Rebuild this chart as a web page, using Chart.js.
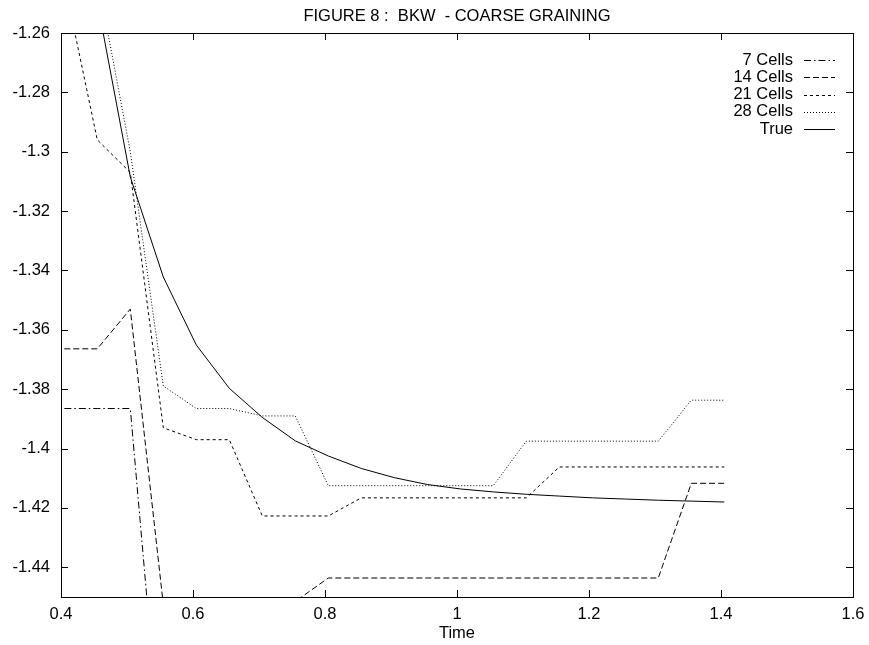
<!DOCTYPE html>
<html>
<head>
<meta charset="utf-8">
<title>FIGURE 8 : BKW - COARSE GRAINING</title>
<script src="https://cdn.jsdelivr.net/npm/chart.js@4/dist/chart.umd.min.js"></script>
<style>
    html, body { margin: 0; padding: 0; background: #fff; }
    #wrap { width: 869px; height: 645px; }
</style>
</head>
<body>
<div id="wrap"><canvas id="bkwChart" width="869" height="645"></canvas></div>
<script>
// sample times shared by every run
const times = [0.405, 0.455, 0.505, 0.555, 0.605, 0.655, 0.705, 0.755, 0.805, 0.855, 0.905,
    0.955, 1.005, 1.055, 1.105, 1.155, 1.205, 1.255, 1.305, 1.355, 1.405];

const cells7 = [-1.3865, -1.3865, -1.3865, -1.5135, -1.53, -1.54, -1.55, -1.55, -1.56, -1.56, -1.56,
    -1.56, -1.56, -1.56, -1.56, -1.56, -1.56, -1.56, -1.56, -1.56, -1.56];
const cells14 = [-1.3664, -1.3664, -1.353, -1.4525, -1.47, -1.47, -1.47, -1.4515, -1.4436, -1.4436, -1.4436,
    -1.4436, -1.4436, -1.4436, -1.4436, -1.4436, -1.4436, -1.4436, -1.4436, -1.4117, -1.4117];
const cells21 = [-1.243, -1.296, -1.307, -1.393, -1.397, -1.397, -1.4227, -1.4227, -1.4227, -1.4166, -1.4166,
    -1.4166, -1.4166, -1.4166, -1.4166, -1.4062, -1.4062, -1.4062, -1.4062, -1.4062, -1.4062];
const cells28 = [-1.17, -1.241, -1.300, -1.3789, -1.3865, -1.3865, -1.389, -1.389, -1.4125, -1.4125, -1.4125,
    -1.4125, -1.4125, -1.4125, -1.3975, -1.3975, -1.3975, -1.3975, -1.3975, -1.3837, -1.3837];
const trueValues = [-1.18, -1.2495, -1.3085, -1.3422, -1.3651, -1.3797, -1.3895, -1.3974, -1.4025, -1.4067, -1.4098,
    -1.4121, -1.4136, -1.4146, -1.4154, -1.416, -1.4166, -1.417, -1.4174, -1.4177, -1.418];

const xTicks = [0.4, 0.6, 0.8, 1.0, 1.2, 1.4, 1.6];
const yTicks = [-1.44, -1.42, -1.4, -1.38, -1.36, -1.34, -1.32, -1.3, -1.28, -1.26];

const FONT = '"Liberation Sans", Arial, Helvetica, sans-serif';
const FONT_SIZE = 16.5;

const toPoints = (values) => values.map((y, i) => ({ x: times[i], y }));

const series = [
    { label: '7 Cells', data: cells7, dash: [7, 3, 1.5, 3] },
    { label: '14 Cells', data: cells14, dash: [6, 3] },
    { label: '21 Cells', data: cells21, dash: [3, 3] },
    { label: '28 Cells', data: cells28, dash: [1, 2] },
    { label: 'True', data: trueValues, dash: [] },
];

const fmt = v => String(Number(v.toFixed(2)));

// title above the plot, centred on the plot area
const titlePlugin = {
    id: 'figTitle',
    afterDraw(chart) {
        const { ctx, chartArea } = chart;
        ctx.save();
        ctx.font = `${FONT_SIZE}px ${FONT}`;
        ctx.fillStyle = '#000';
        ctx.textAlign = 'center';
        ctx.textBaseline = 'middle';
        ctx.fillText('FIGURE 8 :  BKW  - COARSE GRAINING', (chartArea.left + chartArea.right) / 2, 16);
        ctx.restore();
    }
};

// box round the plot with inward tick marks on all four sides
const framePlugin = {
    id: 'frame',
    afterDraw(chart) {
        const { ctx, chartArea: a, scales } = chart;
        const len = 7;
        ctx.save();
        ctx.strokeStyle = '#000';
        ctx.lineWidth = 1;
        ctx.setLineDash([]);
        ctx.strokeRect(Math.round(a.left) + 0.5, Math.round(a.top) + 0.5,
            Math.round(a.right - a.left), Math.round(a.bottom - a.top));
        ctx.beginPath();
        xTicks.slice(1, -1).forEach(v => {
            const px = Math.round(scales.x.getPixelForValue(v)) + 0.5;
            ctx.moveTo(px, a.bottom); ctx.lineTo(px, a.bottom - len);
            ctx.moveTo(px, a.top); ctx.lineTo(px, a.top + len);
        });
        yTicks.forEach(v => {
            const py = Math.round(scales.y.getPixelForValue(v)) + 0.5;
            ctx.moveTo(a.left, py); ctx.lineTo(a.left + len, py);
            ctx.moveTo(a.right, py); ctx.lineTo(a.right - len, py);
        });
        ctx.stroke();
        ctx.restore();
    }
};

// key in the top right: label first, line sample after it
const keyPlugin = {
    id: 'key',
    afterDraw(chart) {
        const { ctx, chartArea: a } = chart;
        ctx.save();
        ctx.font = `${FONT_SIZE}px ${FONT}`;
        ctx.fillStyle = '#000';
        ctx.textAlign = 'right';
        ctx.textBaseline = 'middle';
        chart.data.datasets.forEach((ds, i) => {
            const y = a.top + 27 + i * 17.3;
            ctx.fillText(ds.label, a.right - 60, y);
            ctx.strokeStyle = ds.borderColor;
            ctx.lineWidth = ds.borderWidth;
            ctx.setLineDash(ds.borderDash);
            ctx.beginPath();
            ctx.moveTo(a.right - 49, Math.round(y) + 0.5);
            ctx.lineTo(a.right - 18, Math.round(y) + 0.5);
            ctx.stroke();
        });
        ctx.restore();
    }
};

new Chart(document.getElementById('bkwChart'), {
    type: 'line',
    data: {
        datasets: series.map(s => ({
            label: s.label,
            data: toPoints(s.data),
            borderColor: '#000',
            borderWidth: 1,
            borderDash: s.dash,
            pointRadius: 0,
            tension: 0,
            fill: false,
            clip: 0
        }))
    },
    options: {
        responsive: false,
        animation: false,
        layout: { padding: { top: 33, right: 16, bottom: 0, left: 0 } },
        scales: {
            x: {
                type: 'linear',
                min: 0.4,
                max: 1.6,
                afterBuildTicks: axis => { axis.ticks = xTicks.map(value => ({ value })); },
                afterFit: axis => {
                    axis.height = 48;
                    axis.paddingLeft = 0;
                    axis.paddingRight = 0;
                },
                grid: { display: false, drawTicks: false },
                border: { display: false },
                ticks: {
                    padding: 8,
                    color: '#000',
                    font: { family: FONT, size: FONT_SIZE },
                    maxRotation: 0,
                    autoSkip: false,
                    callback: v => fmt(v)
                },
                title: {
                    display: true,
                    text: 'Time',
                    color: '#000',
                    font: { family: FONT, size: FONT_SIZE },
                    padding: { top: 0, bottom: 2 }
                }
            },
            y: {
                type: 'linear',
                min: -1.45,
                max: -1.26,
                afterBuildTicks: axis => { axis.ticks = yTicks.map(value => ({ value })); },
                afterFit: axis => { axis.width = 61; },
                grid: { display: false, drawTicks: false },
                border: { display: false },
                ticks: {
                    padding: 11,
                    color: '#000',
                    font: { family: FONT, size: FONT_SIZE },
                    autoSkip: false,
                    callback: v => fmt(v)
                }
            }
        },
        plugins: {
            legend: { display: false },
            tooltip: { enabled: false }
        }
    },
    plugins: [titlePlugin, framePlugin, keyPlugin]
});
</script>
</body>
</html>
